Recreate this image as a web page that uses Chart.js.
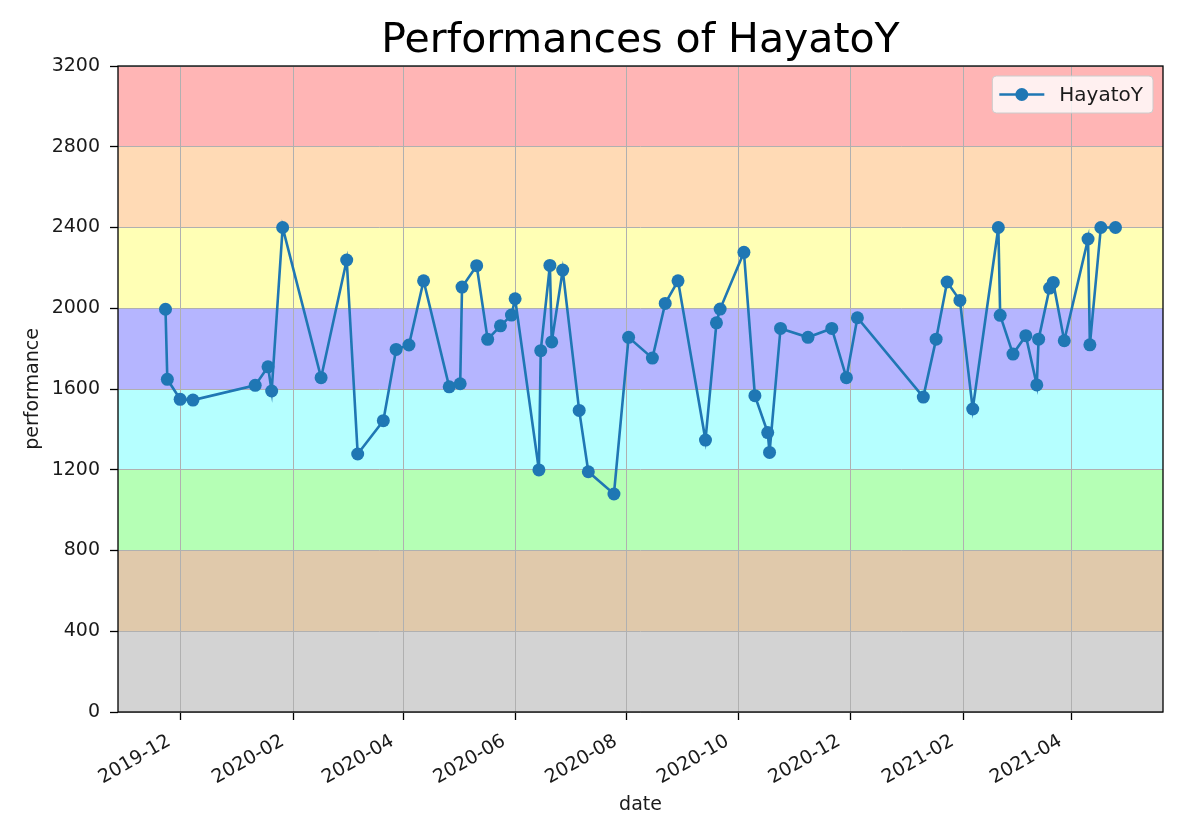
<!DOCTYPE html>
<html>
<head>
<meta charset="utf-8">
<script src="https://cdn.jsdelivr.net/npm/chart.js@4/dist/chart.umd.min.js"></script>
<style>
  body { margin: 0; background: #fff; }
</style>
</head>
<body>
<canvas id="chart1" width="1200" height="837"></canvas>
<script>
'use strict'

var userName = 'HayatoY';

var dates = [
  '2019-11-23', '2019-11-24', '2019-12-01', '2019-12-08', '2020-01-11', '2020-01-18', '2020-01-20', '2020-01-26', '2020-02-16', '2020-03-01',
  '2020-03-07', '2020-03-21', '2020-03-28', '2020-04-04', '2020-04-12', '2020-04-26', '2020-05-02', '2020-05-03', '2020-05-11', '2020-05-17',
  '2020-05-24', '2020-05-30', '2020-06-01', '2020-06-14', '2020-06-15', '2020-06-20', '2020-06-21', '2020-06-27', '2020-07-06', '2020-07-11',
  '2020-07-25', '2020-08-02', '2020-08-15', '2020-08-22', '2020-08-29', '2020-09-13', '2020-09-19', '2020-09-21', '2020-10-04', '2020-10-10',
  '2020-10-17', '2020-10-18', '2020-10-24', '2020-11-08', '2020-11-21', '2020-11-29', '2020-12-05', '2021-01-10', '2021-01-17', '2021-01-23',
  '2021-01-30', '2021-02-06', '2021-02-20', '2021-02-21', '2021-02-28', '2021-03-07', '2021-03-13', '2021-03-14', '2021-03-20', '2021-03-22',
  '2021-03-28', '2021-04-10', '2021-04-11', '2021-04-17', '2021-04-25'
];

var performances = [
  1995, 1648, 1549, 1545, 1618, 1710, 1590, 2400, 1656, 2239,
  1278, 1443, 1796, 1818, 2136, 1611, 1626, 2105, 2211, 1846,
  1913, 1966, 2047, 1199, 1790, 2212, 1833, 2189, 1494, 1190,
  1080, 1856, 1753, 2024, 2136, 1347, 1928, 1996, 2277, 1567,
  1384, 1286, 1900, 1856, 1900, 1656, 1953, 1560, 1847, 2130,
  2039, 1501, 2400, 1965, 1773, 1864, 1620, 1847, 2100, 2128,
  1839, 2343, 1819, 2400, 2400
];

var xTickLabels = ['2019-12', '2020-02', '2020-04', '2020-06', '2020-08', '2020-10', '2020-12', '2021-02', '2021-04'];
var yTicks = [0, 400, 800, 1200, 1600, 2000, 2400, 2800, 3200];

// colour bands (lower bound, upper bound, colour)
var bandFrom = [0, 400, 800, 1200, 1600, 2000, 2400, 2800];
var bandTo = [400, 800, 1200, 1600, 2000, 2400, 2800, 3200];
var bandColors = ['#d3d3d3', '#e0c9ab', '#b5ffb5', '#b5ffff', '#b5b5ff', '#ffffb5', '#ffdab5', '#ffb5b5'];

var FONT = '"DejaVu Sans", sans-serif';

/////////////////////////////////////////////////////////////////

function toDay(s){
  var p = s.split('-');
  return Date.UTC(+p[0], +p[1] - 1, +(p[2] || 1)) / 86400000;
}

function dayToLabel(v){
  var d = new Date(v * 86400000);
  var m = d.getUTCMonth() + 1;
  return d.getUTCFullYear() + '-' + (m < 10 ? '0' + m : m);
}

var points = [];
for (var i = 0; i < dates.length; i++) {
  points.push({x: toDay(dates[i]), y: performances[i]});
}

// matplotlib style 5% margin on the date axis
var first = points[0].x;
var last = points[points.length - 1].x;
var xMin = first - (last - first) * 0.05;
var xMax = last + (last - first) * 0.05;

/////////////////////////////////////////////////////////////////

var bands = {
  id: 'bands',
  beforeDraw: function(chart){
    var ctx = chart.ctx;
    var a = chart.chartArea;
    var y = chart.scales.y;
    ctx.save();
    for (var i = 0; i < bandFrom.length; i++) {
      var top = y.getPixelForValue(bandTo[i]);
      var bot = y.getPixelForValue(bandFrom[i]);
      ctx.fillStyle = bandColors[i];
      ctx.fillRect(a.left, top, a.right - a.left, bot - top);
    }
    ctx.restore();
  }
};

var frame = {
  id: 'frame',
  afterDatasetsDraw: function(chart){
    var ctx = chart.ctx;
    var a = chart.chartArea;
    ctx.save();
    ctx.strokeStyle = '#000';
    ctx.lineWidth = 1.3;
    ctx.strokeRect(a.left, a.top, a.right - a.left, a.bottom - a.top);
    ctx.restore();
  }
};

// title centred over the plot area, like matplotlib
var axTitle = {
  id: 'axTitle',
  afterDraw: function(chart){
    var ctx = chart.ctx;
    var a = chart.chartArea;
    ctx.save();
    ctx.font = '41px ' + FONT;
    ctx.fillStyle = '#000';
    ctx.textAlign = 'center';
    ctx.textBaseline = 'alphabetic';
    ctx.fillText('Performances of ' + userName, (a.left + a.right) / 2, a.top - 14);
    ctx.restore();
  }
};

var boxLegend = {
  id: 'boxLegend',
  afterDraw: function(chart){
    var ctx = chart.ctx;
    var a = chart.chartArea;
    var ds = chart.data.datasets[0];
    ctx.save();
    ctx.font = '20px ' + FONT;
    var tw = ctx.measureText(ds.label).width;
    var w = 7 + 45 + 15 + tw + 10;
    var h = 37;
    var x = a.right - 10 - w;
    var y = a.top + 10;
    ctx.beginPath();
    ctx.roundRect(x, y, w, h, 4);
    ctx.fillStyle = 'rgba(255,255,255,0.8)';
    ctx.fill();
    ctx.strokeStyle = '#cccccc';
    ctx.lineWidth = 1;
    ctx.stroke();
    var cy = y + h / 2;
    ctx.beginPath();
    ctx.moveTo(x + 7, cy);
    ctx.lineTo(x + 52, cy);
    ctx.strokeStyle = ds.borderColor;
    ctx.lineWidth = ds.borderWidth;
    ctx.stroke();
    ctx.beginPath();
    ctx.arc(x + 29.5, cy, ds.pointRadius, 0, Math.PI * 2);
    ctx.fillStyle = ds.pointBackgroundColor;
    ctx.fill();
    ctx.fillStyle = '#1a1a1a';
    ctx.textBaseline = 'middle';
    ctx.fillText(ds.label, x + 67, cy + 1);
    ctx.restore();
  }
};

/////////////////////////////////////////////////////////////////

function makeChart(){
  var ctx = document.getElementById('chart1').getContext('2d');
  new Chart(ctx, {
    type: 'line',
    data: {
      datasets: [{
        label: userName,
        data: points,
        borderColor: '#1f77b4',
        borderWidth: 2.6,
        pointRadius: 6.5,
        pointBackgroundColor: '#1f77b4',
        pointBorderWidth: 0,
        tension: 0
      }]
    },
    options: {
      responsive: false,
      animation: false,
      devicePixelRatio: 1,
      layout: { padding: { left: 18, right: 37, top: 66, bottom: 17 } },
      plugins: {
        legend: { display: false },
        tooltip: { enabled: false },
        title: { display: false }
      },
      scales: {
        x: {
          type: 'linear',
          min: xMin,
          max: xMax,
          afterBuildTicks: function(axis){
            axis.ticks = xTickLabels.map(function(s){ return {value: toDay(s)}; });
          },
          afterFit: function(axis){ axis.height = 108; },
          ticks: {
            autoSkip: false,
            minRotation: 30,
            maxRotation: 30,
            padding: 10,
            labelOffset: -11,
            color: '#1a1a1a',
            font: { family: FONT, size: 19 },
            callback: function(v){ return dayToLabel(v); }
          },
          grid: { color: '#b0b0b0', lineWidth: 1, tickColor: '#000', tickLength: 8, tickWidth: 1.3 },
          border: { display: false },
          title: { display: true, text: 'date', color: '#1a1a1a', font: { family: FONT, size: 19 } }
        },
        y: {
          type: 'linear',
          min: 0,
          max: 3200,
          afterBuildTicks: function(axis){
            axis.ticks = yTicks.map(function(v){ return {value: v}; });
          },
          afterFit: function(axis){ axis.width = 100; },
          ticks: {
            padding: 10,
            color: '#1a1a1a',
            font: { family: FONT, size: 19 },
            callback: function(v){ return String(v); }
          },
          grid: { color: '#b0b0b0', lineWidth: 1, tickColor: '#000', tickLength: 8, tickWidth: 1.3 },
          border: { display: false },
          title: { display: true, text: 'performance', color: '#1a1a1a', font: { family: FONT, size: 19 } }
        }
      }
    },
    plugins: [bands, frame, axTitle, boxLegend]
  });
}

makeChart();
</script>
</body>
</html>
